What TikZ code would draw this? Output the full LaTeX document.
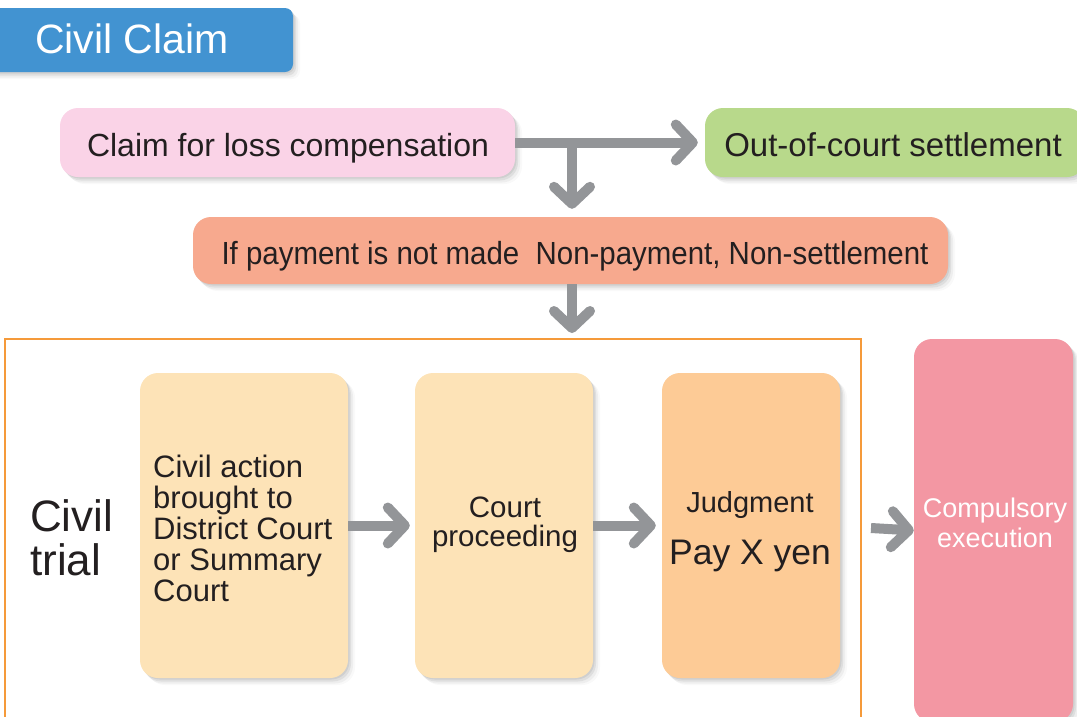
\documentclass[tikz,border=0pt]{standalone}
\usepackage{fontspec}
\setmainfont{Liberation Sans}
\usetikzlibrary{arrows.meta,shadows}
\definecolor{titleblue}{HTML}{4293D1}
\definecolor{pinkbox}{HTML}{FAD3E7}
\definecolor{greenbox}{HTML}{B8D98B}
\definecolor{salmonbox}{HTML}{F7A98E}
\definecolor{lightbox}{HTML}{FDE3B7}
\definecolor{judgebox}{HTML}{FDCB96}
\definecolor{execbox}{HTML}{F397A3}
\definecolor{framecol}{HTML}{F59A3A}
\definecolor{arrgray}{HTML}{939598}
\definecolor{txt}{HTML}{231F20}
\newcommand{\lines}[2]{\begin{tabular}[t]{@{}#1@{}}#2\end{tabular}}
\begin{document}
\begin{tikzpicture}[x=1pt,y=-1pt,
  softshadow/.style={
    drop shadow={shadow xshift=1.5pt,shadow yshift=-1.5pt,opacity=0.16},
    drop shadow={shadow xshift=3pt,shadow yshift=-3.5pt,opacity=0.14},
    drop shadow={shadow xshift=5pt,shadow yshift=-5.5pt,opacity=0.09},
    drop shadow={shadow xshift=7pt,shadow yshift=-7pt,opacity=0.05}},
  box/.style={draw=none, rounded corners=18pt, inner sep=0pt, softshadow},
  lbl/.style={inner sep=0pt, text=txt},
  arr/.style={draw=arrgray, line width=10pt, -{Straight Barb[length=17pt,width=36pt,round]}},
]
\useasboundingbox (0,0) rectangle (1077,716);
% title
\node[box, fill=titleblue, rounded corners=8pt, minimum width=323pt, minimum height=64pt] (title) at (131.5,40) {};
\node[lbl, text=white, anchor=base west, font=\fontsize{41}{41}\selectfont] (titletext) at (35,53) {Civil Claim};
% top row
\node[box, fill=pinkbox, minimum width=455pt, minimum height=69pt] (claim) at (287.5,142.5) {};
\node[lbl, anchor=base, font=\fontsize{32}{32}\selectfont] (claimtext) at (288,156) {Claim for loss compensation};
\node[box, fill=greenbox, minimum width=380pt, minimum height=69pt] (settle) at (895,142.5) {};
\node[lbl, anchor=base, font=\fontsize{33}{33}\selectfont] (settletext) at (893,156) {Out-of-court settlement};
\node[box, fill=salmonbox, minimum width=755pt, minimum height=67pt] (nonpay) at (570.5,250.5) {};
\node[lbl, anchor=base, font=\fontsize{32}{32}\selectfont] (nonpaytext) at (575,264)
  {\scalebox{0.92}[1]{If payment is not made\ \ Non-payment, Non-settlement}};
% frame
\draw[framecol, line width=2pt] (5,740) -- (5,339) -- (861,339) -- (861,740);
\coordinate (frametop) at (572,339);
% civil trial label
\node[lbl, anchor=base west, font=\fontsize{44}{42}\selectfont] (trial) at (30,531) {\lines{l}{Civil\\trial}};
% boxes
\node[box, fill=lightbox, minimum width=208pt, minimum height=305pt] (action) at (244,525.5) {};
\node[lbl, anchor=base west, font=\fontsize{31}{30}\selectfont] (actiontext) at (153,477)
  {\lines{l}{Civil action\\brought to\\District Court\\or Summary\\Court}};
\node[box, fill=lightbox, minimum width=178pt, minimum height=305pt] (proceed) at (504,525.5) {};
\node[lbl, anchor=base, font=\fontsize{29.5}{27}\selectfont] (proceedtext) at (505,517)
  {\lines{c}{Court\\proceeding}};
\node[box, fill=judgebox, minimum width=178pt, minimum height=305pt] (judge) at (751,525.5) {};
\node[lbl, anchor=base, font=\fontsize{29}{29}\selectfont] (judgetext) at (750,512) {Judgment};
\node[lbl, anchor=base, font=\fontsize{35.5}{35}\selectfont] (paytext) at (750,564) {Pay X yen};
\node[box, fill=execbox, minimum width=159pt, minimum height=383pt] (exec) at (993.5,530.5) {};
\node[lbl, text=white, anchor=base, font=\fontsize{27}{30}\selectfont] (exectext) at (995,517)
  {\lines{c}{Compulsory\\execution}};
\coordinate (execstart) at (871,528);
% connectors
\coordinate (branch) at (572,142.5);
\draw[arr, shorten >=7pt] (claim.east) -- (settle.west);
\draw[arr, shorten >=8pt] (branch) -- (branch |- nonpay.north);
\draw[arr, shorten >=6pt] (nonpay.south -| frametop) -- (frametop);
\draw[arr, shorten >=5pt] (action.east) -- (proceed.west);
\draw[arr, shorten >=6pt] (proceed.east) -- (judge.west);
\draw[arr] (execstart) -- (exec.west);
\end{tikzpicture}
\end{document}
